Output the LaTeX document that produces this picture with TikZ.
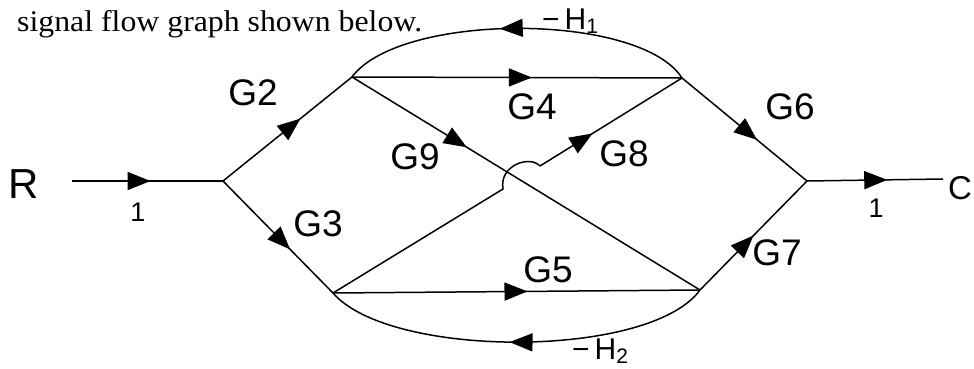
\documentclass[tikz,border=0pt]{standalone}
\usepackage{fontspec}
\setmainfont{Liberation Serif}
\newfontfamily\hand{Liberation Sans}
\usetikzlibrary{decorations.markings,arrows.meta}
\tikzset{
 edge/.style={line width=1.5pt},
 arr/.style={edge,postaction={decorate,decoration={markings,mark=at position #1 with {\arrow{Triangle[length=23pt,width=18pt]}}}}},
 lab/.style={font=\hand\fontsize{37}{37}\selectfont, inner sep=0pt},
 big/.style={font=\hand\fontsize{42}{42}\selectfont, inner sep=0pt},
 one/.style={font=\hand\fontsize{27}{27}\selectfont, inner sep=0pt},
 hlab/.style={font=\hand\fontsize{30}{30}\selectfont, inner sep=0pt},
}
\newcommand{\smallsub}[1]{\raisebox{-0.12em}{\fontsize{21}{21}\selectfont #1}}
\begin{document}
\begin{tikzpicture}[x=1pt,y=-1pt]
\useasboundingbox (0,0) rectangle (974,369);
\node[anchor=base west, font=\fontsize{30}{32}\selectfont, inner sep=0pt] (txt) at (17,32) {\scalebox{1.06}[1]{signal flow graph shown below.}};
% junctions
\coordinate (rin) at (72,181);
\coordinate (a) at (223,181);
\coordinate (b) at (352,77);
\coordinate (c) at (682,78);
\coordinate (d) at (333,293);
\coordinate (e) at (700,290);
\coordinate (f) at (807,181);
\coordinate (cout) at (943,179);
\coordinate (h1) at (503,189);
\coordinate (h2) at (540,166);
% branches
\draw[arr=0.52] (rin) -- (a);
\draw[arr=0.6] (a) -- (b);
\draw[arr=0.61] (a) -- (d);
\draw[arr=0.545] (b) -- (c);
\draw[arr=0.33] (b) -- (e);
\draw[edge] (d) -- (h1) .. controls (499,165) and (530,155) .. (h2);
\draw[arr=0.37] (h2) -- (c);
\draw[arr=0.53] (d) -- (e);
\draw[arr=0.6] (c) -- (f);
\draw[arr=0.5] (e) -- (f);
\draw[arr=0.59] (f) -- (cout);
\draw[arr=0.55] (c) .. controls (640,12) and (400,12) .. (b);
\draw[arr=0.52] (e) .. controls (650,359) and (390,359) .. (d);
% labels
\node[big] (R) at (24,184) {R};
\node[font=\hand\fontsize{33}{33}\selectfont, inner sep=0pt, anchor=west] (C) at (948,188) {C};
\node[one] (l1) at (138,212) {1};
\node[one] (l2) at (876,208) {1};
\node[lab] (g2) at (253,93) {G2};
\node[lab] (g3) at (318,224) {G3};
\node[lab] (g4) at (532,107) {G4};
\node[lab] (g9) at (415,157) {G9};
\node[lab] (g8) at (624,154) {G8};
\node[lab] (g5) at (548,270) {G5};
\node[lab] (g6) at (790,107) {G6};
\node[lab] (g7) at (777,253) {G7};
\node[hlab] (h1l) at (570,21) {−\,H\smallsub{1}};
\node[hlab] (h2l) at (600,351) {−\,H\smallsub{2}};
\end{tikzpicture}
\end{document}
